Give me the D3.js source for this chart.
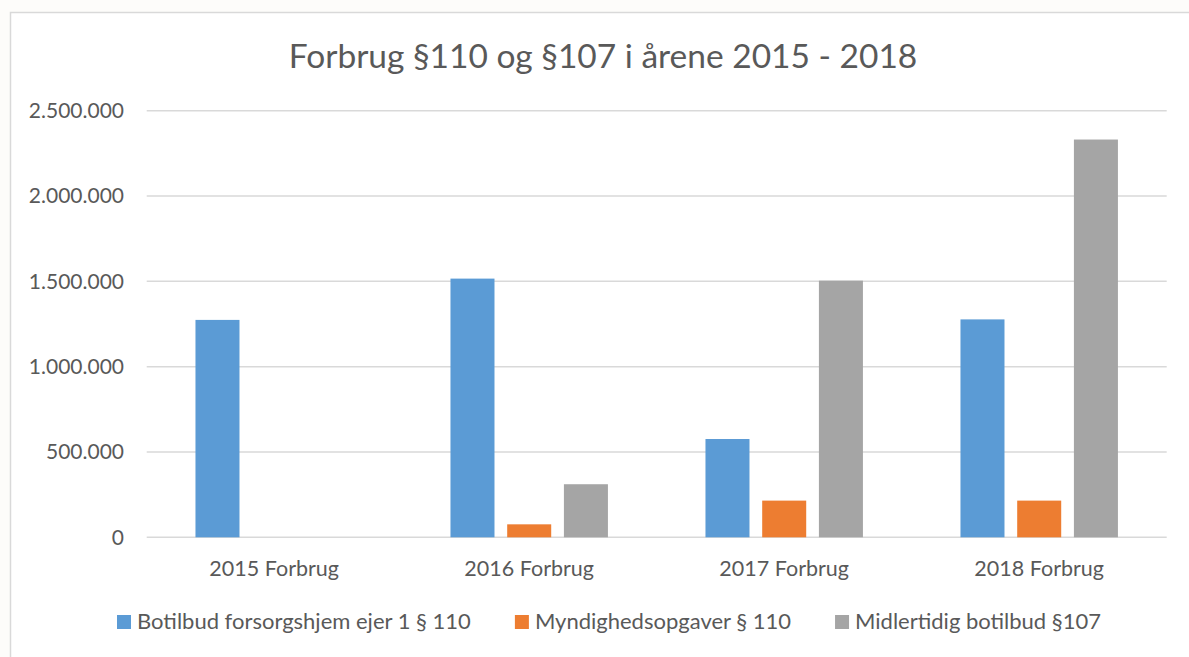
<!DOCTYPE html>
<html>
<head>
<meta charset="utf-8">
<script src="https://cdn.jsdelivr.net/npm/d3@7"></script>
<style>
  html, body { margin: 0; padding: 0; background: #fdfcfa; }
  svg { display: block; }
  text { font-family: Lato, "Open Sans", sans-serif; fill: #595959; }
</style>
</head>
<body>
<svg id="chart" width="1189" height="657"></svg>
<script>
'use strict';

var title = "Forbrug §110 og §107 i årene 2015 - 2018";
var categories = ["2015 Forbrug", "2016 Forbrug", "2017 Forbrug", "2018 Forbrug"];
var seriesNames = ["Botilbud forsorgshjem ejer 1 § 110", "Myndighedsopgaver § 110", "Midlertidig botilbud §107"];
var botilbud = [1274000, 1516000, 576000, 1277000];
var myndighed = [0, 76000, 215000, 215000];
var midlertidig = [0, 311000, 1504000, 2331000];
var yTicks = [0, 500000, 1000000, 1500000, 2000000, 2500000];
var colors = ["#5b9bd5", "#ed7d31", "#a5a5a5"];

var series = [botilbud, myndighed, midlertidig];

var svg = d3.select("#chart");

// chart area
svg.append("rect")
    .attr("x", 10.5)
    .attr("y", 12.5)
    .attr("width", 1200)
    .attr("height", 700)
    .attr("fill", "#ffffff")
    .attr("stroke", "#d9d9d9")
    .attr("stroke-width", 1.5);

svg.append("text")
    .attr("x", 603)
    .attr("y", 68)
    .attr("text-anchor", "middle")
    .attr("font-size", "33.5px")
    .text(title);

var x0 = d3.scaleBand()
    .domain(categories)
    .range([146.7, 1166.7])
    .padding(0);

var x1 = d3.scaleBand()
    .domain(d3.range(series.length))
    .range([0, x0.bandwidth()])
    .paddingInner(0.224)
    .paddingOuter(0.86);

var y = d3.scaleLinear()
    .domain([0, 2500000])
    .range([537.3, 110.7]);

var fmt = function(v) {
    return d3.format(",")(v).replace(/,/g, ".");
};

// gridlines
svg.append("g")
    .selectAll("line")
    .data(yTicks)
    .enter()
    .append("line")
    .attr("x1", x0.range()[0])
    .attr("x2", x0.range()[1])
    .attr("y1", function(d) { return y(d); })
    .attr("y2", function(d) { return y(d); })
    .attr("stroke", "#d9d9d9")
    .attr("stroke-width", 1.5);

// y labels
svg.append("g")
    .selectAll("text")
    .data(yTicks)
    .enter()
    .append("text")
    .attr("x", 124)
    .attr("y", function(d) { return y(d); })
    .attr("dy", "0.35em")
    .attr("text-anchor", "end")
    .attr("font-size", "21px")
    .text(fmt);

// bars
var groups = svg.append("g")
    .selectAll("g")
    .data(categories)
    .enter()
    .append("g")
    .attr("transform", function(d) { return "translate(" + x0(d) + ",0)"; });

groups.selectAll("rect")
    .data(function(d, i) {
        return series.map(function(s, j) { return {k: j, v: s[i]}; });
    })
    .enter()
    .append("rect")
    .filter(function(d) { return d.v > 0; })
    .attr("x", function(d) { return x1(d.k); })
    .attr("y", function(d) { return y(d.v); })
    .attr("width", x1.bandwidth())
    .attr("height", function(d) { return y(0) - y(d.v); })
    .attr("fill", function(d) { return colors[d.k]; });

// category labels
svg.append("g")
    .selectAll("text")
    .data(categories)
    .enter()
    .append("text")
    .attr("x", function(d) { return x0(d) + x0.bandwidth() / 2; })
    .attr("y", 576)
    .attr("text-anchor", "middle")
    .attr("font-size", "21.5px")
    .text(function(d) { return d; });

// legend
var legend = svg.append("g");
var items = legend.selectAll("g")
    .data(seriesNames)
    .enter()
    .append("g");

items.append("rect")
    .attr("y", 615)
    .attr("width", 14)
    .attr("height", 14)
    .attr("fill", function(d, i) { return colors[i]; });

items.append("text")
    .attr("x", 20)
    .attr("y", 629)
    .attr("font-size", "22px")
    .text(function(d) { return d; });

var widths = [];
items.each(function() {
    widths.push(20 + d3.select(this).select("text").node().getComputedTextLength());
});
var gap = 44;
var total = d3.sum(widths) + gap * (widths.length - 1);
var pos = 609 - total / 2;
items.attr("transform", function(d, i) {
    var p = pos;
    pos += widths[i] + gap;
    return "translate(" + p + ",0)";
});
</script>
</body>
</html>
